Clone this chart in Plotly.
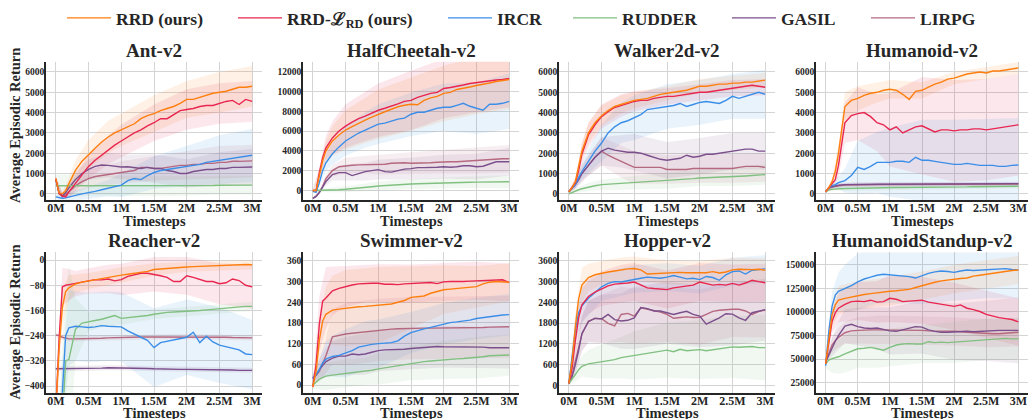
import plotly.graph_objects as go

W, H = 1031, 419

# ---------------- data ----------------
X = [0, 0.05, 0.1, 0.15,
     0.2, 0.3, 0.4, 0.5, 0.6, 0.7, 0.8, 0.9,
     1.0, 1.1, 1.2, 1.3, 1.4, 1.5, 1.6, 1.7, 1.8, 1.9,
     2.0, 2.1, 2.2, 2.3, 2.4, 2.5, 2.6, 2.7, 2.8, 2.9,
     3.0]
XB = [0, 0.1, 0.2, 0.3, 0.5, 0.8, 1.0, 1.5, 2.0, 2.5, 3.0]
X_TICKS = [0, 0.5, 1, 1.5, 2, 2.5, 3]
X_TICKTEXT = ['0M', '0.5M', '1M', '1.5M', '2M', '2.5M', '3M']
METHODS = ['RRD (ours)', 'RRD-ℒ<sub>RD</sub> (ours)', 'IRCR', 'RUDDER', 'GASIL', 'LIRPG']
ENV_NAMES = ['Ant-v2', 'HalfCheetah-v2', 'Walker2d-v2', 'Humanoid-v2',
             'Reacher-v2', 'Swimmer-v2', 'Hopper-v2', 'HumanoidStandup-v2']
X_TITLE = 'Timesteps'
Y_TITLE = 'Average Episodic Return'

# Ant-v2
ANT_RRD = [750, 50, 0, 150,
           500, 1150, 1600, 1950, 2250, 2550, 2800, 3000,
           3150, 3300, 3450, 3700, 3850, 3950, 4100, 4200, 4300, 4450,
           4650, 4650, 4750, 4850, 4950, 5000, 5050, 5150, 5250, 5250,
           5300]
ANT_RRD_LRD = [750, 0, -100, -150,
               100, 500, 950, 1350, 1650, 1900, 2150, 2400,
               2600, 2800, 3000, 3150, 3350, 3500, 3700, 3700, 3900, 4100,
               4150, 4200, 4300, 4350, 4350, 4450, 4550, 4600, 4400, 4650,
               4550]
ANT_IRCR = [-150, -180, -220, -200,
            -150, -80, 0, 50, 120, 200, 280, 360,
            430, 650, 750, 700, 900, 1050, 1150, 1200, 1250, 1300,
            1350, 1400, 1450, 1550, 1600, 1680, 1700, 1780, 1830, 1880,
            1900]
ANT_RUDDER = [400, 400, 400, 400,
              400, 400, 400, 400, 400, 400, 400, 400,
              400, 400, 390, 390, 380, 380, 380, 390, 390, 400,
              400, 400, 410, 410, 410, 420, 420, 420, 430, 430,
              430]
ANT_GASIL = [700, 50, -100, 50,
             300, 700, 1000, 1200, 1350, 1420, 1400, 1350,
             1320, 1330, 1300, 1250, 1300, 1250, 1250, 1150, 1100, 1000,
             1000, 1100, 1150, 1200, 1200, 1250, 1250, 1300, 1300, 1300,
             1320]
ANT_LIRPG = [700, 50, -150, -50,
             100, 400, 600, 750, 850, 900, 950, 1000,
             1050, 1100, 1150, 1300, 1300, 1250, 1250, 1300, 1350, 1400,
             1400, 1450, 1450, 1500, 1500, 1550, 1550, 1600, 1600, 1600,
             1620]
ANT_RRD_SD = [100, 100, 300, 500, 700, 800, 800, 900, 900, 1000, 1000]
ANT_RRD_LRD_SD = [100, 100, 300, 400, 600, 700, 800, 900, 1000, 1000, 1000]
ANT_IRCR_SD = [100, 150, 200, 250, 300, 400, 600, 800, 1000, 1200, 1300]
ANT_RUDDER_SD = [550, 550, 550, 550, 500, 500, 500, 500, 500, 450, 450]
ANT_GASIL_SD = [100, 150, 300, 400, 500, 600, 600, 700, 700, 800, 900]
ANT_LIRPG_SD = [100, 150, 250, 350, 450, 500, 550, 600, 700, 800, 800]

# HalfCheetah-v2
HC_RRD = [0, 0, 1500, 3000,
          4000, 5000, 5600, 6100, 6450, 6800, 7100, 7400,
          7700, 7950, 8200, 8450, 8600, 8700, 8650, 9100, 9350, 9500,
          9800, 9900, 10200, 10300, 10450, 10600, 10700, 10850, 11000, 11100,
          11200]
HC_RRD_LRD = [0, 0, 1800, 3300,
              4300, 5300, 6000, 6500, 6900, 7250, 7500, 7800,
              8100, 8300, 8500, 8750, 9000, 9100, 9400, 9600, 9800, 9900,
              10300, 10400, 10500, 10650, 10800, 10900, 10950, 11050, 11150, 11200,
              11300]
HC_IRCR = [-100, -200, 800, 2000,
           2800, 3700, 4400, 5000, 5400, 5800, 6100, 6400,
           6700, 6800, 7000, 7200, 7300, 7700, 7900, 7900, 8100, 8300,
           8400, 8400, 8600, 8800, 8500, 8300, 8100, 8700, 8700, 8800,
           9000]
HC_RUDDER = [0, 0, 0, 0,
             10, 40, 70, 120, 170, 220, 300, 380,
             450, 500, 530, 570, 600, 650, 670, 700, 720, 750,
             780, 790, 800, 810, 830, 840, 850, 860, 870, 875,
             880]
HC_GASIL = [-800, -600, -200, 300,
            900, 1600, 1800, 1800, 1500, 1700, 1900, 2000,
            2100, 1900, 1850, 2000, 2150, 2200, 2300, 2300, 2300, 2350,
            2400, 2350, 2400, 2500, 2500, 2400, 2450, 2700, 2900, 2900,
            2900]
HC_LIRPG = [-800, -600, -200, 400,
            1200, 2000, 2400, 2500, 2550, 2580, 2600, 2600,
            2600, 2650, 2750, 2800, 2800, 2750, 2750, 2800, 2800, 2850,
            2900, 2900, 2900, 2950, 3000, 3000, 3050, 3100, 3150, 3200,
            3200]
HC_RRD_SD = [100, 500, 1000, 1500, 2000, 2300, 2500, 2700, 2800, 2900, 3000]
HC_RRD_LRD_SD = [100, 600, 1200, 1700, 2200, 2500, 2700, 3000, 3000, 3000, 2900]
HC_IRCR_SD = [100, 400, 800, 1100, 1500, 1800, 2000, 2200, 2400, 2600, 2800]
HC_RUDDER_SD = [100, 150, 200, 250, 300, 400, 450, 500, 550, 600, 650]
HC_GASIL_SD = [100, 200, 400, 600, 800, 900, 1000, 1100, 1200, 1300, 1400]
HC_LIRPG_SD = [100, 200, 400, 600, 800, 900, 1000, 1100, 1200, 1300, 1400]

# Walker2d-v2
WAL_RRD = [100, 300, 600, 1300,
           2100, 3000, 3500, 3850, 4100, 4300, 4400, 4500,
           4600, 4650, 4700, 4800, 4900, 4950, 5000, 5050, 5100, 5200,
           5300, 5300, 5350, 5400, 5400, 5450, 5450, 5500, 5500, 5550,
           5600]
WAL_RRD_LRD = [100, 300, 550, 1150,
               1950, 2900, 3400, 3800, 4050, 4250, 4350, 4450,
               4550, 4600, 4600, 4700, 4750, 4800, 4800, 4850, 4900, 4950,
               5000, 5000, 5050, 5100, 5150, 5200, 5250, 5300, 5350, 5300,
               5250]
WAL_IRCR = [100, 250, 450, 800,
            1100, 1600, 2100, 2500, 3000, 3300, 3500, 3600,
            3750, 3900, 4150, 4200, 4250, 4300, 4350, 4450, 4300, 4400,
            4500, 4550, 4500, 4450, 4600, 4800, 4700, 4800, 4900, 5000,
            4900]
WAL_RUDDER = [0, 80, 150, 200,
              250, 330, 400, 450, 470, 480, 500, 520,
              550, 570, 600, 610, 620, 650, 680, 700, 720, 750,
              780, 790, 800, 810, 820, 840, 860, 880, 900, 930,
              950]
WAL_GASIL = [100, 250, 450, 700,
             1000, 1400, 1800, 2100, 2250, 2150, 2100, 2050,
             2050, 2000, 1900, 1800, 1700, 1650, 1700, 1750, 1900, 1800,
             1850, 1950, 1950, 2000, 2050, 2100, 2150, 2200, 2200, 2100,
             2100]
WAL_LIRPG = [100, 250, 450, 700,
             1000, 1400, 1800, 2100, 1900, 1750, 1600, 1450,
             1300, 1300, 1300, 1300, 1300, 1200, 1200, 1200, 1200, 1250,
             1250, 1250, 1250, 1250, 1250, 1250, 1300, 1350, 1350, 1350,
             1300]
WAL_RRD_SD = [50, 200, 400, 500, 500, 450, 400, 350, 350, 350, 350]
WAL_RRD_LRD_SD = [50, 250, 500, 600, 600, 550, 500, 400, 400, 400, 400]
WAL_IRCR_SD = [50, 200, 400, 600, 900, 1000, 1100, 1100, 1100, 1100, 1200]
WAL_RUDDER_SD = [50, 100, 150, 200, 250, 300, 350, 400, 400, 450, 500]
WAL_GASIL_SD = [50, 200, 400, 500, 700, 800, 900, 900, 900, 900, 900]
WAL_LIRPG_SD = [50, 200, 400, 500, 700, 800, 800, 700, 700, 700, 700]

# Humanoid-v2
HUM_RRD = [100, 300, 600, 1100,
           2000, 4300, 4600, 4700, 4850, 4950, 5000, 5100,
           5150, 5100, 4900, 4650, 5050, 5100, 5250, 5400, 5500, 5650,
           5700, 5800, 5900, 5950, 6000, 5950, 6050, 6050, 6100, 6150,
           6200]
HUM_RRD_LRD = [100, 300, 450, 700,
               1400, 3500, 3850, 3950, 4000, 3800, 3500, 3400,
               3150, 3300, 3000, 3150, 3300, 3350, 3200, 3050, 3150, 3150,
               3100, 3150, 3150, 3200, 3200, 3150, 3200, 3250, 3300, 3350,
               3400]
HUM_IRCR = [100, 300, 400, 450,
            550, 650, 900, 1300, 1200, 1350, 1550, 1550,
            1550, 1600, 1600, 1550, 1800, 1650, 1650, 1600, 1550, 1500,
            1450, 1450, 1500, 1450, 1400, 1400, 1400, 1350, 1350, 1400,
            1420]
HUM_RUDDER = [100, 200, 220, 240,
              250, 260, 270, 280, 280, 290, 300, 300,
              300, 310, 310, 310, 320, 320, 320, 330, 330, 330,
              340, 340, 340, 350, 350, 350, 360, 360, 360, 370,
              370]
HUM_GASIL = [100, 300, 350, 400,
             420, 450, 460, 470, 470, 470, 470, 470,
             470, 470, 470, 480, 480, 480, 480, 480, 480, 480,
             480, 480, 490, 490, 490, 490, 490, 490, 500, 500,
             500]
HUM_LIRPG = [100, 280, 330, 380,
             400, 430, 440, 450, 450, 450, 450, 460,
             460, 460, 460, 460, 460, 470, 470, 470, 470, 470,
             470, 470, 470, 480, 480, 480, 480, 480, 480, 480,
             480]
HUM_RRD_SD = [50, 150, 400, 700, 600, 500, 450, 400, 300, 300, 300]
HUM_RRD_LRD_SD = [50, 200, 600, 1000, 1300, 1400, 1800, 2400, 2500, 2500, 2500]
HUM_IRCR_SD = [50, 150, 300, 600, 1300, 1500, 1700, 2000, 2200, 2300, 2300]
HUM_RUDDER_SD = [50, 80, 100, 100, 100, 100, 100, 100, 100, 100, 100]
HUM_GASIL_SD = [50, 80, 100, 100, 100, 100, 100, 100, 100, 100, 100]
HUM_LIRPG_SD = [50, 80, 100, 100, 100, 100, 100, 100, 100, 100, 100]

# Reacher-v2
REA_RRD = [-480, -280, -150, -100,
           -88, -76, -70, -66, -62, -58, -55, -52,
           -48, -45, -42, -38, -36, -30, -28, -26, -24, -22,
           -22, -21, -20, -20, -19, -18, -16, -15, -14, -14,
           -15]
REA_RRD_LRD = [-480, -250, -85, -80,
               -78, -75, -70, -66, -62, -63, -60, -66,
               -62, -52, -48, -42, -42, -45, -50, -55, -68, -68,
               -50, -55, -62, -68, -68, -75, -72, -60, -65, -80,
               -85]
REA_IRCR = [-700, -600, -420, -240,
            -215, -210, -212, -214, -212, -208, -210, -212,
            -212, -225, -236, -245, -255, -278, -262, -258, -255, -250,
            -245, -229, -262, -242, -260, -270, -275, -280, -285, -298,
            -300]
REA_RUDDER = [-900, -700, -500, -320,
              -315, -220, -200, -195, -192, -188, -183, -176,
              -185, -183, -180, -178, -176, -172, -168, -166, -165, -164,
              -164, -162, -160, -158, -156, -155, -153, -150, -148, -147,
              -147]
REA_GASIL = [-345, -345, -345, -345,
             -344, -344, -344, -343, -343, -343, -342, -342,
             -342, -342, -342, -343, -344, -345, -346, -346, -347, -347,
             -347, -347, -347, -348, -348, -348, -349, -349, -350, -350,
             -350]
REA_LIRPG = [-238, -240, -245, -248,
             -250, -250, -250, -249, -248, -248, -247, -246,
             -245, -245, -244, -244, -244, -244, -244, -244, -243, -243,
             -243, -243, -243, -244, -244, -245, -245, -246, -246, -247,
             -247]
REA_RRD_SD = [50, 60, 40, 30, 25, 25, 25, 20, 15, 15, 15]
REA_RRD_LRD_SD = [50, 60, 50, 40, 40, 45, 50, 55, 60, 65, 70]
REA_IRCR_SD = [50, 100, 120, 110, 110, 110, 110, 125, 120, 120, 110]
REA_RUDDER_SD = [100, 250, 300, 100, 30, 25, 20, 15, 15, 15, 15]
REA_GASIL_SD = [8, 8, 8, 8, 8, 8, 8, 8, 8, 8, 8]
REA_LIRPG_SD = [8, 8, 8, 8, 8, 8, 8, 8, 8, 8, 8]

# Swimmer-v2
SWI_RRD = [-5, 40, 130, 185,
           205, 217, 220, 223, 225, 227, 228, 230,
           232, 233, 235, 240, 245, 254, 256, 258, 266, 272,
           276, 278, 280, 282, 284, 285, 293, 298, 300, 300,
           298]
SWI_RRD_LRD = [-5, 60, 177, 243,
               252, 273, 280, 286, 290, 293, 295, 295,
               295, 292, 292, 291, 293, 294, 296, 298, 297, 294,
               299, 300, 299, 300, 301, 302, 302, 303, 304, 305,
               297]
SWI_IRCR = [20, 30, 45, 65,
            75, 83, 86, 92, 100, 110, 115, 118,
            120, 121, 123, 128, 142, 152, 158, 163, 167, 172,
            178, 181, 183, 185, 188, 193, 196, 198, 200, 203,
            204]
SWI_RUDDER = [0, 8, 17, 22,
              26, 29, 31, 34, 36, 38, 40, 43,
              47, 50, 53, 56, 60, 64, 66, 68, 70, 72,
              73, 74, 76, 77, 78, 79, 82, 85, 86, 86,
              87]
SWI_GASIL = [20, 30, 45, 58,
             68, 78, 84, 84, 90, 88, 90, 95,
             100, 102, 102, 103, 104, 106, 108, 110, 112, 112,
             111, 111, 110, 110, 109, 109, 110, 108, 108, 107,
             108]
SWI_LIRPG = [20, 28, 40, 60,
             85, 140, 145, 148, 150, 152, 154, 158,
             160, 161, 162, 163, 164, 165, 165, 165, 165, 165,
             166, 166, 166, 166, 167, 167, 167, 168, 168, 169,
             169]
SWI_RRD_SD = [10, 60, 80, 100, 110, 110, 110, 90, 70, 60, 55]
SWI_RRD_LRD_SD = [10, 80, 90, 70, 60, 55, 55, 55, 55, 55, 55]
SWI_IRCR_SD = [10, 30, 50, 60, 70, 70, 70, 60, 60, 60, 60]
SWI_RUDDER_SD = [10, 30, 40, 40, 40, 40, 45, 50, 55, 60, 60]
SWI_GASIL_SD = [10, 30, 40, 50, 55, 60, 60, 60, 60, 60, 60]
SWI_LIRPG_SD = [10, 30, 50, 80, 90, 90, 90, 90, 90, 90, 90]

# Hopper-v2
HOP_RRD = [50, 700, 1700, 2500,
           2900, 3120, 3200, 3250, 3280, 3310, 3350, 3370,
           3380, 3340, 3220, 3230, 3260, 3270, 3260, 3270, 3260, 3260,
           3250, 3260, 3290, 3250, 3280, 3340, 3360, 3350, 3350, 3360,
           3330]
HOP_RRD_LRD = [50, 500, 1300, 1950,
               2330, 2570, 2700, 2800, 2880, 2930, 2940, 2960,
               2990, 2900, 2820, 2800, 2790, 2770, 2820, 2850, 2880, 2900,
               2990, 2950, 2900, 2920, 2900, 2950, 2900, 2960, 3040, 3000,
               2970]
HOP_IRCR = [50, 900, 1600, 2100,
            2300, 2520, 2700, 2850, 2950, 3000, 2990, 3030,
            3080, 3100, 3130, 3120, 3100, 3130, 3180, 3130, 3080, 3100,
            3060, 3150, 3120, 3040, 3200, 3290, 3310, 3220, 3330, 3350,
            3370]
HOP_RUDDER = [50, 200, 310, 450,
              550, 620, 650, 690, 720, 740, 800, 830,
              865, 900, 930, 960, 1000, 1015, 970, 1040, 1000, 1020,
              1030, 1000, 1030, 1050, 1080, 1110, 1100, 1100, 1120, 1090,
              1090]
HOP_GASIL = [50, 250, 600, 1000,
             1500, 1840, 1940, 1920, 2050, 1900, 1860, 1880,
             1950, 2250, 2220, 2150, 2150, 2100, 2050, 2100, 2140, 2050,
             2000, 1770, 1850, 1950, 2070, 2060, 1950, 1880, 2100, 2150,
             2190]
HOP_LIRPG = [50, 300, 700, 1100,
             1480, 1860, 1930, 1930, 1790, 1720, 2050, 2080,
             2000, 2240, 2200, 2180, 2120, 2050, 1940, 1960, 1980, 1960,
             1970, 2050, 2140, 2170, 2190, 2200, 2200, 2150, 2050, 2130,
             2180]
HOP_RRD_SD = [50, 400, 500, 400, 350, 350, 350, 350, 350, 350, 350]
HOP_RRD_LRD_SD = [50, 400, 500, 500, 500, 550, 550, 550, 550, 550, 550]
HOP_IRCR_SD = [50, 400, 500, 500, 400, 400, 400, 400, 400, 400, 400]
HOP_RUDDER_SD = [50, 200, 300, 400, 500, 600, 700, 800, 850, 900, 950]
HOP_GASIL_SD = [50, 300, 500, 600, 700, 800, 900, 900, 900, 900, 900]
HOP_LIRPG_SD = [50, 300, 500, 600, 700, 800, 800, 800, 800, 800, 800]

# HumanoidStandup-v2
HS_RRD = [45000, 72000, 97000, 107500,
          112500, 114500, 116000, 117500, 118500, 119500, 120500, 121000,
          122000, 122500, 123000, 124000, 126000, 128000, 130000, 131500, 133000, 134000,
          135000, 135500, 136000, 138000, 139000, 140000, 141500, 142500, 143500, 144000,
          144500]
HS_RRD_LRD = [45000, 68000, 90000, 99000,
              104000, 108000, 111000, 111500, 111000, 112500, 110500, 111000,
              114500, 113500, 111000, 111500, 112000, 112500, 110500, 109500, 108000, 107000,
              106000, 107500, 104000, 102500, 100500, 97500, 95500, 94000, 93000, 92000,
              89500]
HS_IRCR = [43000, 80000, 106000, 118000,
           122000, 125000, 128000, 132000, 135000, 137000, 139000, 140000,
           139500, 139000, 138500, 137500, 136000, 138500, 141000, 142500, 143500, 143000,
           142000, 143500, 144500, 144000, 144500, 144500, 145000, 145500, 146000, 145000,
           144500]
HS_RUDDER = [45000, 49000, 50500, 51500,
             52500, 55500, 58500, 61000, 61500, 62500, 61000, 59500,
             62500, 65000, 66000, 66500, 66000, 66000, 68500, 67500, 68000, 67500,
             68000, 68500, 69000, 70000, 70500, 71000, 71500, 72000, 72000, 71500,
             71500]
HS_GASIL = [47000, 55000, 63000, 69000,
            75000, 85000, 87000, 84500, 83000, 82500, 83000, 81500,
            80000, 79500, 81000, 82500, 84500, 84000, 81000, 79500, 78500, 78500,
            79000, 79500, 79500, 79000, 79500, 80000, 80000, 80500, 80500, 80500,
            80500]
HS_LIRPG = [47000, 56000, 65000, 69500,
            73000, 78000, 80000, 80500, 81000, 81000, 81000, 81000,
            81000, 80500, 80500, 80500, 80500, 80500, 80000, 80000, 79500, 79500,
            79500, 79000, 78500, 78000, 77500, 77500, 77000, 77000, 77500, 78000,
            78500]
HS_RRD_SD = [3000, 12000, 15000, 15000, 15000, 15000, 15000, 15000, 15000, 15000, 15000]
HS_RRD_LRD_SD = [3000, 12000, 15000, 18000, 20000, 22000, 25000, 25000, 25000, 25000, 25000]
HS_IRCR_SD = [3000, 15000, 20000, 25000, 30000, 30000, 30000, 30000, 30000, 30000, 30000]
HS_RUDDER_SD = [5000, 15000, 18000, 20000, 20000, 20000, 20000, 20000, 22000, 22000, 22000]
HS_GASIL_SD = [3000, 10000, 15000, 18000, 20000, 22000, 25000, 28000, 30000, 32000, 35000]
HS_LIRPG_SD = [3000, 8000, 10000, 12000, 14000, 15000, 15000, 15000, 15000, 15000, 15000]

# y-axis tick values per environment
ANT_YTICKS = [0, 1000, 2000, 3000, 4000, 5000, 6000]
HC_YTICKS = [0, 2000, 4000, 6000, 8000, 10000, 12000]
WAL_YTICKS = [0, 1000, 2000, 3000, 4000, 5000, 6000]
HUM_YTICKS = [0, 1000, 2000, 3000, 4000, 5000, 6000]
REA_YTICKS = [-400, -320, -240, -160, -80, 0]
SWI_YTICKS = [0, 60, 120, 180, 240, 300, 360]
HOP_YTICKS = [0, 600, 1200, 1800, 2400, 3000, 3600]
HS_YTICKS = [25000, 50000, 75000, 100000, 125000, 150000]

# ---------------- styling ----------------
COLORS = ['#ff7f0e', '#e8264f', '#3b8ee8', '#80c080', '#7b4f8c', '#b5687f']
FONT = 'Liberation Serif'
TXT = '#262626'

ENVS = [
    ([ANT_RRD, ANT_RRD_LRD, ANT_IRCR, ANT_RUDDER, ANT_GASIL, ANT_LIRPG],
     [ANT_RRD_SD, ANT_RRD_LRD_SD, ANT_IRCR_SD, ANT_RUDDER_SD, ANT_GASIL_SD, ANT_LIRPG_SD],
     [-300, 6510], ANT_YTICKS),
    ([HC_RRD, HC_RRD_LRD, HC_IRCR, HC_RUDDER, HC_GASIL, HC_LIRPG],
     [HC_RRD_SD, HC_RRD_LRD_SD, HC_IRCR_SD, HC_RUDDER_SD, HC_GASIL_SD, HC_LIRPG_SD],
     [-955, 13010], HC_YTICKS),
    ([WAL_RRD, WAL_RRD_LRD, WAL_IRCR, WAL_RUDDER, WAL_GASIL, WAL_LIRPG],
     [WAL_RRD_SD, WAL_RRD_LRD_SD, WAL_IRCR_SD, WAL_RUDDER_SD, WAL_GASIL_SD, WAL_LIRPG_SD],
     [-300, 6510], WAL_YTICKS),
    ([HUM_RRD, HUM_RRD_LRD, HUM_IRCR, HUM_RUDDER, HUM_GASIL, HUM_LIRPG],
     [HUM_RRD_SD, HUM_RRD_LRD_SD, HUM_IRCR_SD, HUM_RUDDER_SD, HUM_GASIL_SD, HUM_LIRPG_SD],
     [-300, 6510], HUM_YTICKS),
    ([REA_RRD, REA_RRD_LRD, REA_IRCR, REA_RUDDER, REA_GASIL, REA_LIRPG],
     [REA_RRD_SD, REA_RRD_LRD_SD, REA_IRCR_SD, REA_RUDDER_SD, REA_GASIL_SD, REA_LIRPG_SD],
     [-421, 24], REA_YTICKS),
    ([SWI_RRD, SWI_RRD_LRD, SWI_IRCR, SWI_RUDDER, SWI_GASIL, SWI_LIRPG],
     [SWI_RRD_SD, SWI_RRD_LRD_SD, SWI_IRCR_SD, SWI_RUDDER_SD, SWI_GASIL_SD, SWI_LIRPG_SD],
     [-22, 384], SWI_YTICKS),
    ([HOP_RRD, HOP_RRD_LRD, HOP_IRCR, HOP_RUDDER, HOP_GASIL, HOP_LIRPG],
     [HOP_RRD_SD, HOP_RRD_LRD_SD, HOP_IRCR_SD, HOP_RUDDER_SD, HOP_GASIL_SD, HOP_LIRPG_SD],
     [-217, 3845], HOP_YTICKS),
    ([HS_RRD, HS_RRD_LRD, HS_IRCR, HS_RUDDER, HS_GASIL, HS_LIRPG],
     [HS_RRD_SD, HS_RRD_LRD_SD, HS_IRCR_SD, HS_RUDDER_SD, HS_GASIL_SD, HS_LIRPG_SD],
     [14400, 163100], HS_YTICKS),
]

COL_PX = [(46, 262), (303, 519), (559, 775), (816, 1028)]
ROW_PX = [(52, 194), (248, 392)]
TITLE_Y_PX = [41, 236]
XTITLE_Y_PX = [216, 413]
YTITLE_Y_PX = [118, 320]
LEGEND_IDS = ['legend', 'legend2', 'legend3', 'legend4', 'legend5', 'legend6']
LEGEND_LINE_START_PX = [66, 237, 447, 572, 731, 870]


def rgba(hex_color, a):
    h = hex_color.lstrip('#')
    r, g, b = int(h[0:2], 16), int(h[2:4], 16), int(h[4:6], 16)
    return f'rgba({r},{g},{b},{a})'


band_idx = [X.index(v) for v in XB]
fig = go.Figure()
layout = {}
annotations = []

for k, (means, sds, yrange, yticks) in enumerate(ENVS):
    r, c = divmod(k, 4)
    sfx = '' if k == 0 else str(k + 1)
    xa, ya = 'x' + sfx, 'y' + sfx
    # shaded bands
    for m in range(6):
        centre = [means[m][i] for i in band_idx]
        up = [cv + s for cv, s in zip(centre, sds[m])]
        lo = [cv - s for cv, s in zip(centre, sds[m])]
        fig.add_trace(go.Scatter(
            x=XB + XB[::-1], y=up + lo[::-1], fill='toself',
            fillcolor=rgba(COLORS[m], 0.11), line=dict(width=0),
            mode='lines', hoverinfo='skip', showlegend=False,
            xaxis=xa, yaxis=ya))
    # mean lines (RRD drawn last -> on top)
    for m in [5, 4, 3, 2, 1, 0]:
        fig.add_trace(go.Scatter(
            x=X, y=means[m], mode='lines', name=METHODS[m],
            line=dict(color=COLORS[m], width=1.4),
            showlegend=(k == 0), legend=LEGEND_IDS[m],
            xaxis=xa, yaxis=ya))

    x0, x1 = COL_PX[c]
    y0, y1 = ROW_PX[r]
    xdom = [x0 / W, min(x1 / W, 1.0)]
    ydom = [1 - y1 / H, 1 - y0 / H]
    layout['xaxis' + sfx] = dict(
        domain=xdom, anchor=ya, range=[-0.15, 3.15],
        tickvals=X_TICKS, ticktext=X_TICKTEXT,
        showgrid=True, gridcolor='#d4d4d4', gridwidth=1.2,
        showline=True, linecolor='#262626', linewidth=1.6,
        zeroline=False, ticks='', ticklabelstandoff=-4,
        tickfont=dict(family=FONT, size=12, color=TXT, weight='bold'))
    layout['yaxis' + sfx] = dict(
        domain=ydom, anchor=xa, range=yrange, tickvals=yticks, tickformat='d',
        showgrid=True, gridcolor='#d4d4d4', gridwidth=1.2,
        showline=True, linecolor='#262626', linewidth=1.6,
        zeroline=False, ticks='', ticklabelstandoff=-2,
        tickfont=dict(family=FONT, size=9.5, color=TXT, weight='bold'))
    xc = (xdom[0] + xdom[1]) / 2
    annotations.append(dict(
        text=ENV_NAMES[k], x=xc, y=1 - TITLE_Y_PX[r] / H,
        xref='paper', yref='paper', showarrow=False,
        xanchor='center', yanchor='middle',
        font=dict(family=FONT, size=19, color=TXT, weight='bold')))
    annotations.append(dict(
        text=X_TITLE, x=xc, y=1 - XTITLE_Y_PX[r] / H,
        xref='paper', yref='paper', showarrow=False,
        xanchor='center', yanchor='middle',
        font=dict(family=FONT, size=14.5, color=TXT, weight='bold')))
    if c == 0:
        annotations.append(dict(
            text=Y_TITLE, x=15 / W, y=1 - YTITLE_Y_PX[r] / H, textangle=-90,
            xref='paper', yref='paper', showarrow=False,
            xanchor='center', yanchor='middle',
            font=dict(family=FONT, size=14.5, color=TXT, weight='bold')))

for m, lid in enumerate(LEGEND_IDS):
    layout[lid] = dict(
        x=(LEGEND_LINE_START_PX[m] - 4) / W, y=1 - 7 / H,
        xanchor='left', yanchor='middle', orientation='h',
        bgcolor='rgba(0,0,0,0)', itemwidth=44,
        font=dict(family=FONT, size=17.5, color=TXT, weight='bold'))

fig.update_layout(
    width=W, height=H, margin=dict(l=0, r=0, t=0, b=0),
    paper_bgcolor='white', plot_bgcolor='white',
    font=dict(family=FONT, color=TXT),
    annotations=annotations, showlegend=True, **layout)

fig.write_html(
    'out.html',
    config={'displayModeBar': False},
    post_script=("document.body.style.margin='0';"
                 "document.body.style.overflow='hidden';"
                 "var gd=document.getElementById('{plot_id}');"
                 "gd.style.position='absolute';gd.style.left='0px';gd.style.top='0px';"))
